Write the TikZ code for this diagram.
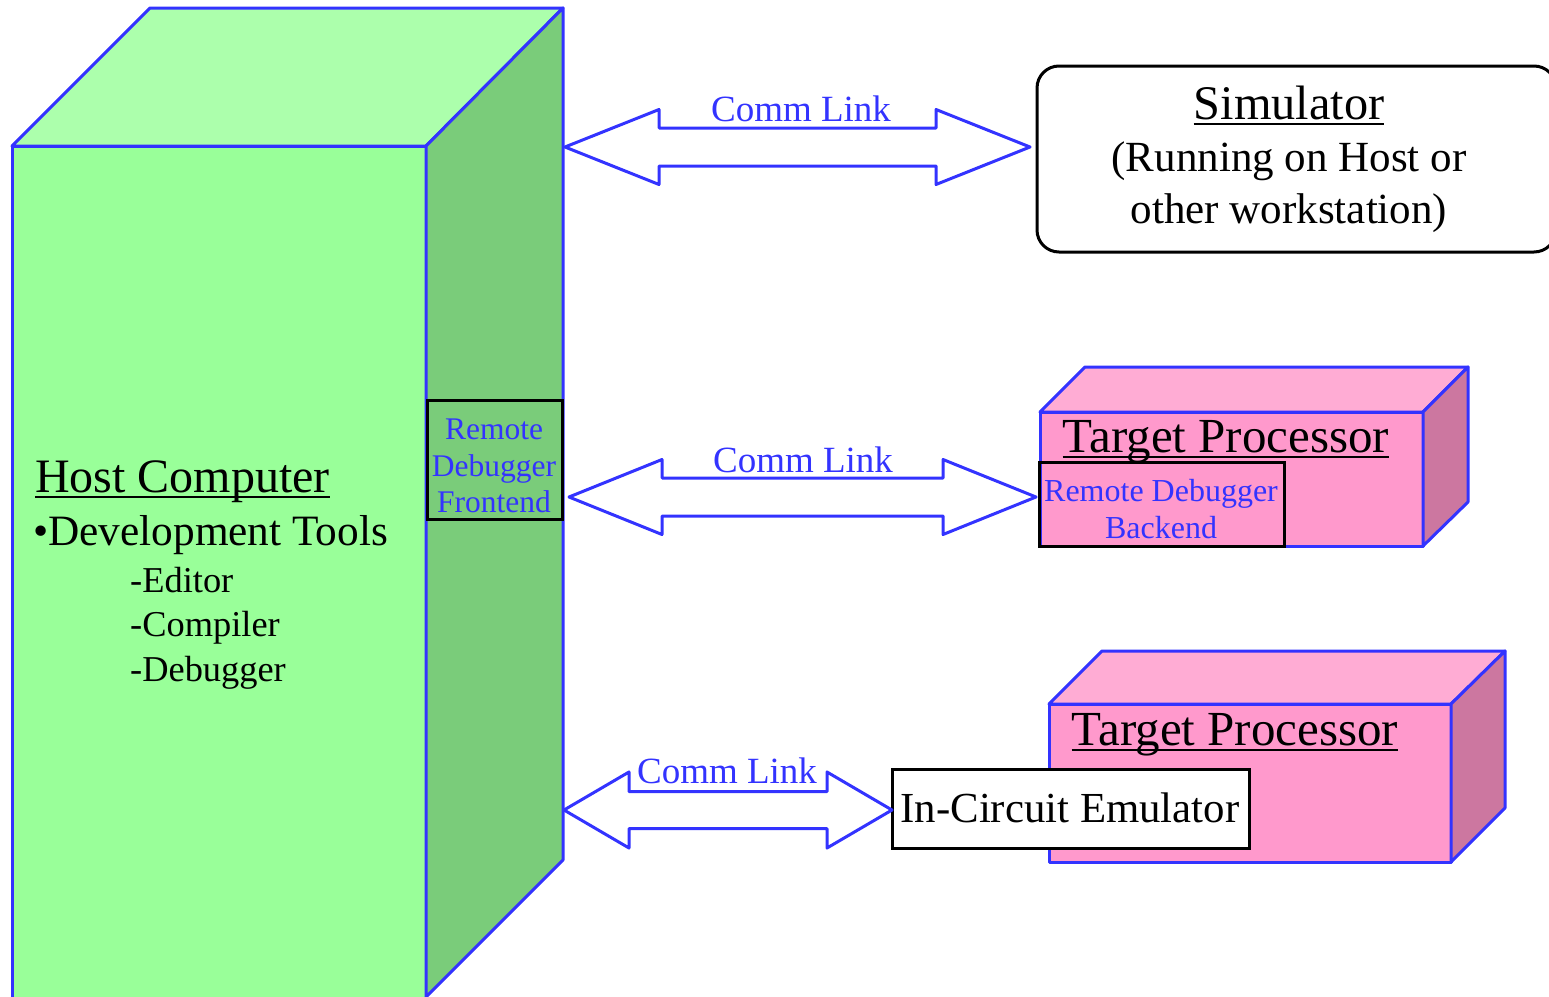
\documentclass[tikz,border=0pt]{standalone}
\usepackage{fontspec}
\setmainfont{Liberation Serif}
\usetikzlibrary{calc}
\definecolor{lineblue}{RGB}{51,51,255}
\definecolor{gfront}{RGB}{153,255,153}
\definecolor{gtop}{RGB}{172,255,172}
\definecolor{gside}{RGB}{122,204,122}
\definecolor{pfront}{RGB}{255,153,204}
\definecolor{ptop}{RGB}{255,172,212}
\definecolor{pside}{RGB}{204,119,160}
\tikzset{
  face/.style={draw=lineblue, line width=3pt, line join=round},
  blackbox/.style={draw=black, line width=3pt},
  arrowline/.style={draw=lineblue, fill=white, line width=3pt, line join=round},
  txt/.style={inner sep=0pt, font=\fontsize{#1}{#1}\selectfont},
  bluetxt/.style={inner sep=0pt, text=lineblue, font=\fontsize{#1}{#1}\selectfont},
  uline/.style={draw=black, line width=2.2pt}
}
\newcommand\dblarrow[5]{%
  \draw[arrowline] (#1) -- ($(#1)+(#3,-#4)$) -- ($(#1)+(#3,-#5)$) -- ($(#2)+(-#3,-#5)$)
    -- ($(#2)+(-#3,-#4)$) -- (#2) -- ($(#2)+(-#3,#4)$) -- ($(#2)+(-#3,#5)$)
    -- ($(#1)+(#3,#5)$) -- ($(#1)+(#3,#4)$) -- cycle;}
\begin{document}
\begin{tikzpicture}[x=1pt,y=-1pt]
\useasboundingbox (0,0) rectangle (1549,996);
% ---- Host computer cube
\draw[face, fill=gfront] (12,146) rectangle (426,1004);
\draw[face, fill=gtop] (12,146) -- (150,8) -- (563,8) -- (426,146) -- cycle;
\draw[face, fill=gside] (426,146) -- (563,8) -- (563,860) -- (426,997) -- cycle;
\node[blackbox, minimum width=135pt, minimum height=119pt, inner sep=0pt] (fe) at (494.5,459.5) {};
\node[bluetxt=31.5, align=center] (fetext) at (494,466) {Remote\\[5pt]Debugger\\[5pt]Frontend};
% host text
\node[txt=48, anchor=base west] (hc) at (35,492) {Host Computer};
\draw[uline] ([yshift=-5pt]hc.base west) -- ([yshift=-5pt]hc.base east);
\node[txt=43.3, anchor=base west] (dev) at (33,545) {•Development Tools};
\node[txt=36.4, anchor=base west] (ed) at (130,592) {-Editor};
\node[txt=36.4, anchor=base west] (co) at (130,636) {-Compiler};
\node[txt=36.4, anchor=base west] (de) at (130,681) {-Debugger};
% ---- Simulator
\draw[blackbox, rounded corners=22pt] (1037,66) rectangle (1556,252);
\node[txt=48.3, anchor=base] (sim) at (1289,119) {Simulator};
\draw[uline] ([yshift=-5pt]sim.base west) -- ([yshift=-5pt]sim.base east);
\node[txt=43, anchor=base] (sim2) at (1289,171) {(Running on Host or};
\node[txt=43, anchor=base] (sim3) at (1289,223) {other workstation)};
% ---- Target 1
\draw[face, fill=pfront] (1040,412) rectangle (1423,546);
\draw[face, fill=ptop] (1040,412) -- (1085,367) -- (1468,367) -- (1423,412) -- cycle;
\draw[face, fill=pside] (1423,412) -- (1468,367) -- (1468,502) -- (1423,546) -- cycle;
\node[txt=49, anchor=base] (tp1) at (1226,452) {Target Processor};
\draw[uline] ([yshift=-5pt]tp1.base west) -- ([yshift=-5pt]tp1.base east);
\node[blackbox, minimum width=245pt, minimum height=84pt, inner sep=0pt] (be) at (1161.5,504) {};
\node[bluetxt=32, align=center] (betext) at (1161,509) {Remote Debugger\\[5pt]Backend};
% ---- Target 2
\draw[face, fill=pfront] (1049,704) rectangle (1451,862);
\draw[face, fill=ptop] (1049,704) -- (1102,651) -- (1505,651) -- (1451,704) -- cycle;
\draw[face, fill=pside] (1451,704) -- (1505,651) -- (1505,808) -- (1451,862) -- cycle;
\node[txt=49, anchor=base] (tp2) at (1235,745) {Target Processor};
\draw[uline] ([yshift=-5pt]tp2.base west) -- ([yshift=-5pt]tp2.base east);
\node[blackbox, fill=white, minimum width=357pt, minimum height=79pt, inner sep=0pt] (ice) at (1070.5,808.5) {};
\node[txt=42.8, anchor=base] (icetext) at (1070,822) {In-Circuit Emulator};
% ---- Comm links
\coordinate (a1l) at (565,147);
\coordinate (a1r) at (1030,147);
\coordinate (a2l) at (569,497);
\coordinate (a2r) at (1036,497);
\coordinate (a3l) at (564,810);
\coordinate (a3r) at (892,810);
\dblarrow{a1l}{a1r}{94}{37.5}{19}
\dblarrow{a2l}{a2r}{93}{37.5}{19}
\dblarrow{a3l}{a3r}{65}{38}{18.5}
\node[bluetxt=37, anchor=base] (l1) at (801,121) {Comm Link};
\node[bluetxt=37, anchor=base] (l2) at (803,472) {Comm Link};
\node[bluetxt=37, anchor=base] (l3) at (727,783) {Comm Link};
\end{tikzpicture}
\end{document}
